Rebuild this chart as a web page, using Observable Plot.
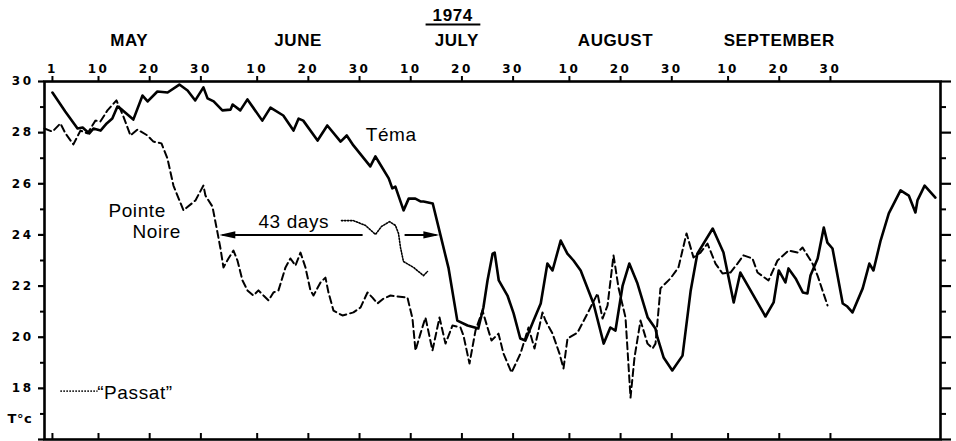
<!DOCTYPE html>
<html>
<head>
<meta charset="utf-8">
<script src="https://cdn.jsdelivr.net/npm/d3@7"></script>
<script src="https://cdn.jsdelivr.net/npm/@observablehq/plot@0.6"></script>
<style>
  body { margin: 0; background: #fff; }
  #chart svg { display: block; }
</style>
</head>
<body>
<div id="chart"></div>
<script>
// Surface temperature, 1974: Téma (Ghana), Pointe Noire (Congo) and the "Passat" cruise.
// Time is counted in days after 1 May 1974.
const START = Date.UTC(1974, 4, 1);
const day = (d) => new Date(START + d * 864e5);

const year = "1974";
const months = ["MAY", "JUNE", "JULY", "AUGUST", "SEPTEMBER"];
const tickDates = ["1974-05-01", "1974-05-10", "1974-05-20", "1974-05-30",
  "1974-06-10", "1974-06-20", "1974-06-30", "1974-07-10", "1974-07-20", "1974-07-30",
  "1974-08-10", "1974-08-20", "1974-08-30", "1974-09-10", "1974-09-20", "1974-09-30"]
  .map((s) => new Date(s));
const majorTemps = [16, 18, 20, 22, 24, 26, 28, 30];
const minorTemps = [17, 19, 21, 23, 25, 27, 29];

// Téma (solid)
const temaDays = [0.0, 2.5, 4.9, 5.9, 7.2, 8.0, 9.4, 10.6, 11.7, 12.7,
  13.3, 15.8, 17.6, 18.6, 20.5, 22.5, 24.8, 26.4, 27.9, 29.5,
  30.3, 31.5, 33.2, 34.8, 35.2, 36.7, 38.1, 41.0, 42.6, 45.1,
  47.1, 48.1, 49.0, 51.8, 53.7, 56.3, 57.5, 58.8, 62.1, 63.1,
  63.7, 65.7, 66.4, 67.0, 68.6, 69.6, 70.9, 71.9, 72.5, 74.3,
  75.8, 77.4, 79.1, 81.1, 83.2, 84.2, 85.0, 86.0, 86.4, 87.2,
  88.9, 90.1, 91.4, 92.4, 94.0, 95.4, 96.7, 97.7, 99.3, 100.6,
  101.8, 103.2, 105.7, 107.7, 109.0, 110.0, 111.4, 112.7, 114.3, 116.3,
  117.8, 118.2, 119.4, 121.1, 123.1, 124.7, 126.0, 129.0, 131.1, 133.1,
  134.4, 139.3, 140.9, 141.9, 143.2, 143.8, 145.2, 146.6, 147.5, 148.1,
  149.5, 150.7, 151.4, 152.4, 154.4, 155.3, 156.3, 158.3, 159.6, 160.4,
  161.8, 163.4, 165.7, 167.3, 168.6, 169.0, 170.4, 172.5];
const temaTemp = [29.57, 28.83, 28.16, 28.20, 27.97, 28.16, 28.08, 28.36, 28.55, 29.02,
  28.94, 28.51, 29.45, 29.22, 29.61, 29.57, 29.88, 29.65, 29.26, 29.77,
  29.34, 29.22, 28.87, 28.90, 29.10, 28.87, 29.30, 28.47, 28.98, 28.67,
  28.08, 28.55, 28.47, 27.69, 28.28, 27.65, 27.89, 27.50, 26.68, 27.07,
  26.87, 26.21, 25.82, 25.89, 24.96, 25.42, 25.42, 25.31, 25.31, 25.23,
  24.00, 22.69, 20.65, 20.46, 20.34, 21.16, 22.22, 23.27, 23.31, 22.22,
  21.63, 20.93, 19.95, 19.87, 20.65, 21.32, 22.88, 22.61, 23.78, 23.27,
  23.00, 22.61, 21.32, 19.75, 20.38, 20.26, 22.02, 22.88, 22.10, 20.77,
  20.34, 19.99, 19.21, 18.70, 19.28, 21.83, 23.27, 24.25, 23.31, 21.36,
  22.53, 20.81, 21.36, 22.61, 22.14, 22.69, 22.30, 21.75, 21.71, 22.41,
  23.08, 24.29, 23.70, 23.47, 21.32, 21.20, 20.97, 21.91, 22.88, 22.61,
  23.78, 24.84, 25.74, 25.54, 24.88, 25.35, 25.93, 25.46];

// Pointe Noire (dashed)
const pnDays = [-1.56, 0, 1.56, 2.54, 4.10, 5.47, 6.84, 8.40, 9.38, 10.75,
  12.51, 13.87, 15.24, 16.61, 18.56, 19.73, 21.30, 22.47, 23.64, 25.60,
  27.94, 29.50, 29.89, 31.26, 32.24, 32.83, 33.41, 34.39, 35.37, 36.15,
  37.13, 38.10, 39.27, 40.25, 41.23, 42.21, 43.18, 44.16, 45.53, 46.50,
  47.48, 48.46, 49.43, 50.41, 51.00, 52.37, 53.34, 53.93, 54.91, 56.66,
  58.81, 60.18, 61.55, 62.53, 63.50, 64.68, 66.04, 69.36, 70.34, 70.93,
  71.90, 72.88, 74.25, 75.62, 76.79, 78.16, 79.72, 80.30, 81.48, 82.65,
  84.02, 85.00, 85.78, 87.15, 88.12, 89.69, 91.44, 93.01, 94.18, 95.74,
  96.33, 97.70, 99.06, 99.85, 100.63, 102.58, 104.54, 106.49, 107.47, 108.45,
  109.62, 110.59, 111.96, 112.94, 113.72, 114.89, 116.26, 117.24, 117.82, 118.79,
  120.75, 122.31, 123.88, 125.24, 126.61, 127.98, 129.54, 130.91, 132.47, 133.84,
  135.01, 136.77, 137.75, 139.90, 141.66, 143.81, 145.56, 146.55, 148.50, 149.48, 151.43];
const pnTemp = [28.16, 28.04, 28.36, 27.97, 27.54, 28.08, 27.97, 28.47, 28.44, 28.87,
  29.26, 28.63, 27.89, 28.12, 27.89, 27.65, 27.58, 26.99, 25.93, 24.96,
  25.35, 25.93, 25.54, 25.11, 24.10, 23.47, 22.73, 23.08, 23.39, 23.00,
  22.22, 21.83, 21.63, 21.83, 21.63, 21.44, 21.75, 21.83, 22.73, 23.08,
  22.80, 23.31, 22.73, 21.83, 21.63, 22.14, 22.33, 21.75, 21.04, 20.85,
  20.97, 21.16, 21.75, 21.55, 21.32, 21.51, 21.63, 21.55, 20.73, 19.48,
  20.14, 20.77, 19.48, 20.77, 19.75, 20.46, 20.38, 20.07, 18.97, 20.26,
  21.04, 20.38, 19.87, 20.14, 19.36, 18.62, 19.36, 20.38, 19.56, 20.97,
  20.65, 20.14, 19.36, 18.78, 19.95, 20.18, 20.93, 21.71, 20.73, 21.24,
  23.20, 21.94, 20.77, 17.64, 19.21, 20.65, 19.75, 19.56, 19.75, 21.91,
  22.30, 22.73, 24.06, 23.12, 23.31, 23.66, 22.88, 22.49, 22.53, 22.88,
  23.20, 23.08, 22.53, 22.22, 23.00, 23.39, 23.31, 23.51, 22.88, 22.41, 21.24];

// "Passat" (dotted)
const passatDays = [56.47, 58.81, 61.16, 63.11, 64.29, 65.85, 67.02, 67.61, 68.00, 68.58, 70.54, 72.49, 73.27];
const passatTemp = [24.56, 24.56, 24.37, 24.02, 24.33, 24.52, 24.37, 24.06, 23.51, 22.96, 22.73, 22.41, 22.57];

// Lag between the two 24 °C crossings
const lagTemp = 24;
const lagStartDay = 32.6;
const lagDays = 43;

const series = (days, temps) => days.map((d, i) => ({date: day(d), t: temps[i]}));
const tema = series(temaDays, temaTemp);
const pointeNoire = series(pnDays, pnTemp);
const passat = series(passatDays, passatTemp);

const lagEndDay = lagStartDay + lagDays;

// filled arrowheads, tip at the anchor point
const headLeft = {draw(ctx) { ctx.moveTo(0, 0); ctx.lineTo(16, -3.6); ctx.lineTo(16, 3.6); ctx.closePath(); }};
const headRight = {draw(ctx) { ctx.moveTo(0, 0); ctx.lineTo(-16, -3.6); ctx.lineTo(-16, 3.6); ctx.closePath(); }};

const label = (text, d, t, opts = {}) =>
  Plot.text([{date: day(d), t, text}], {x: "date", y: "t", text: "text", textAnchor: "start",
    fontSize: 19, fill: "black", ...opts});

const chart = Plot.plot({
  width: 956,
  height: 441,
  marginLeft: 44,
  marginRight: 16,
  marginTop: 81,
  marginBottom: 2,
  style: {fontFamily: "Liberation Sans, Arial, sans-serif", background: "white", color: "black", overflow: "visible"},
  x: {type: "utc", domain: [day(-1.55), day(173.5)]},
  y: {domain: [16, 30]},
  marks: [
    // left axis
    Plot.axisY({ticks: majorTemps, tickSize: 6, tickPadding: 5, label: null, strokeWidth: 2.2,
      tickFormat: (d) => (d === 16 ? "" : d), fontSize: 12, fontWeight: "bold", fontFamily: "DejaVu Sans"}),
    Plot.axisY({ticks: minorTemps, tickSize: 4, label: null, strokeWidth: 2, tickFormat: () => ""}),
    // right axis
    Plot.axisY({anchor: "right", ticks: majorTemps, tickSize: 10, label: null, strokeWidth: 2.2, tickFormat: () => ""}),
    Plot.axisY({anchor: "right", ticks: minorTemps, tickSize: 5, label: null, strokeWidth: 2, tickFormat: () => ""}),
    // top axis: day of month
    Plot.axisX({anchor: "top", ticks: tickDates, tickSize: 6, tickPadding: 3, label: null, strokeWidth: 2,
      tickFormat: (d) => d.getUTCDate(), fontSize: 12, fontWeight: "bold", fontFamily: "DejaVu Sans"}),
    // bottom axis: short inward ticks
    Plot.ruleX(tickDates, {insetTop: 352, strokeWidth: 2}),
    Plot.frame({strokeWidth: 2.6}),

    // month names and year
    Plot.text(months, {x: (m, i) => new Date(Date.UTC(1974, 4 + i, [16, 18, 19, 19, 20][i])),
      text: (m) => m, frameAnchor: "top", lineAnchor: "middle", dy: -41, fontSize: 17, fontWeight: "bold"}),
    Plot.text([year], {x: () => day(78.2), text: (d) => d, frameAnchor: "top", lineAnchor: "middle",
      dy: -66, fontSize: 17, fontWeight: "bold"}),
    Plot.link([year], {x1: () => day(72.9), x2: () => day(83.6), y1: () => 30, y2: () => 30, dy: -57, strokeWidth: 2}),

    // series
    Plot.line(pointeNoire, {x: "date", y: "t", stroke: "black", strokeWidth: 2, strokeDasharray: "7,4"}),
    Plot.line(passat, {x: "date", y: "t", stroke: "black", strokeWidth: 1.6, strokeDasharray: "1.4,1.6"}),
    Plot.line(tema, {x: "date", y: "t", stroke: "black", strokeWidth: 2.6, strokeLinejoin: "round"}),

    // 43-day lag arrow (broken where the "Passat" curve dips)
    Plot.link([[lagStartDay + 0.6, 60.6], [68.8, lagEndDay - 0.6]], {
      x1: (s) => day(s[0]), x2: (s) => day(s[1]), y1: () => lagTemp, y2: () => lagTemp, strokeWidth: 2}),
    Plot.dot([lagStartDay], {x: (d) => day(d), y: () => lagTemp, symbol: headLeft, fill: "black", r: 4}),
    Plot.dot([lagEndDay], {x: (d) => day(d), y: () => lagTemp, symbol: headRight, fill: "black", r: 4}),
    label(`${lagDays} days`, 40.25, 24.51),

    // series labels
    label("Téma", 61.2, 27.91),
    label("Pointe", 10.94, 24.94),
    label("Noire", 15.63, 24.12),

    // legend for the dotted curve
    Plot.link([0], {x1: () => day(1.56), x2: () => day(8.8), y1: () => 17.89, y2: () => 17.89,
      strokeWidth: 1.6, strokeDasharray: "1.4,1.6"}),
    label("\u201cPassat\u201d", 8.74, 17.81),

    // unit
    Plot.text(["T°c"], {x: () => day(-1.55), y: () => 16.8, text: (d) => d, textAnchor: "start", dx: -37,
      fontSize: 13, fontWeight: "bold", fontFamily: "DejaVu Sans"})
  ]
});

const svg = d3.select(chart);
svg.selectAll('g[aria-label="x-axis tick label"] text, g[aria-label="y-axis tick label"] text')
  .style("letter-spacing", "2.5px");
svg.selectAll('g[aria-label="text"] text').style("letter-spacing", "0.6px");

document.getElementById("chart").append(chart);
</script>
</body>
</html>
